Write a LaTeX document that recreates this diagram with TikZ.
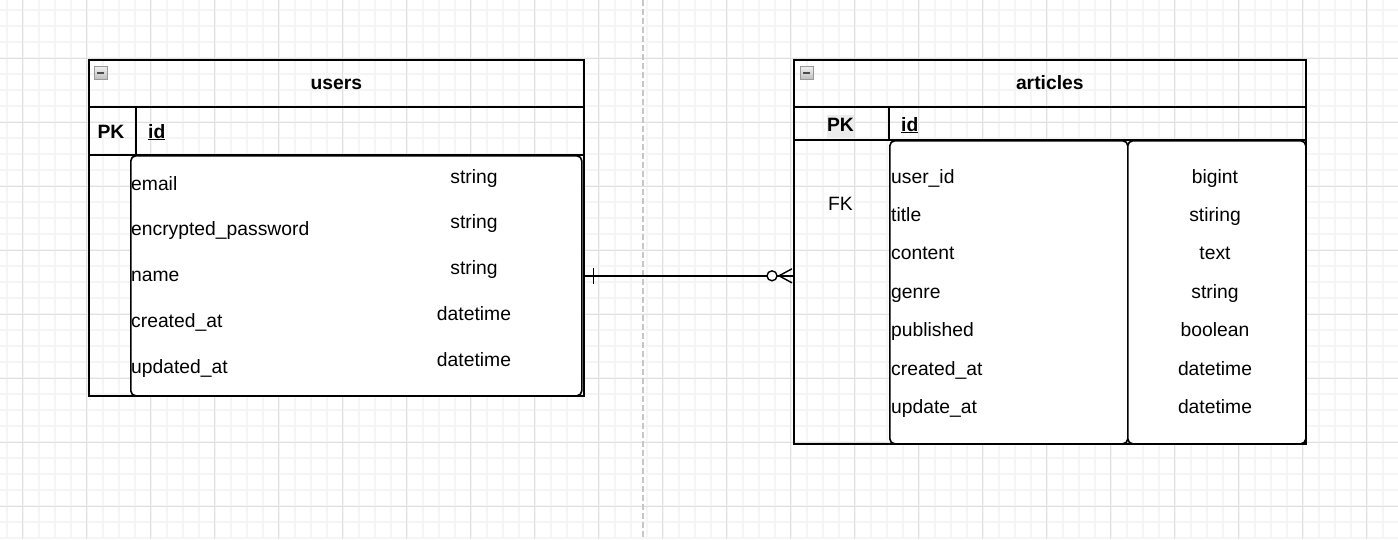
\documentclass[tikz,border=0pt]{standalone}
\usepackage{fontspec}
\setmainfont{Liberation Sans}
\usepackage{tikz}
\usetikzlibrary{positioning, arrows}
\tikzset{
	tablebox/.style={draw=black, line width=1.6pt, inner sep=0pt, anchor=north west}, % outer frame of a table
	fieldbox/.style={draw=black, fill=white, line width=1.6pt, rounded corners=5pt, inner sep=0pt, anchor=north west}, % rounded block of columns
	rowline/.style={draw=black, line width=1.6pt}, % row and column separators
	tabletitle/.style={anchor=base, inner sep=0pt, font=\fontsize{19.3pt}{23pt}\selectfont\bfseries},
	keytext/.style={anchor=base, inner sep=0pt, font=\fontsize{19.3pt}{23pt}\selectfont\bfseries},
	fieldname/.style={anchor=base west, inner sep=0pt, font=\fontsize{19.3pt}{23pt}\selectfont},
	fieldtype/.style={anchor=base, inner sep=0pt, font=\fontsize{19.3pt}{23pt}\selectfont},
	foldbox/.style={draw=gray!80, top color=gray!10, bottom color=gray!50, minimum size=13pt, inner sep=0pt,
		path picture={\draw[line width=2pt, black!70] ([xshift=-3.5pt]path picture bounding box.center) -- ([xshift=3.5pt]path picture bounding box.center);}}, % collapse button
	minorgrid/.style={gray!8, line width=2pt},
	majorgrid/.style={gray!24, line width=1pt},
	relline/.style={black, line width=1.4pt},
}

\begin{document}
\begin{tikzpicture}[x=1pt, y=-1pt]
	\useasboundingbox (0,0) rectangle (1398,539);
	\clip (0,0) rectangle (1398,539);
	\fill[white] (0,0) rectangle (1398,539);

	% Grid
	\foreach \x in {6.7,22.7,...,1398} \draw[minorgrid] (\x,0) -- (\x,539);
	\foreach \y in {10.3,26.3,...,539} \draw[minorgrid] (0,\y) -- (1398,\y);
	\foreach \x in {22.3,86.3,...,1398} \draw[majorgrid] (\x,0) -- (\x,539);
	\foreach \y in {58.3,122.3,...,539} \draw[majorgrid] (0,\y) -- (1398,\y);

	% Separator
	\draw[gray!45, line width=2pt, dash pattern=on 6pt off 3pt] (643,0) -- (643,539);

	% Table users
	\node[tablebox, minimum width=495pt, minimum height=336pt] (users) at (88,59) {};
	\draw[rowline] ([yshift=-48pt]users.north west) -- ([yshift=-48pt]users.north east);
	\draw[rowline] ([yshift=-96pt]users.north west) -- ([yshift=-96pt]users.north east);
	\draw[rowline] ([shift={(48,48)}]users.north west) -- ++(0,48);
	\node[fieldbox, minimum width=451pt, minimum height=240pt] (ubody) at (130,155) {};
	\node[foldbox] (ufold) at (100.5,72.5) {};
	\node[tabletitle] (utitle) at ([yshift=-30pt]users.north) {users};
	\node[keytext] (upk) at (111,138) {PK};
	\node[keytext, anchor=base west] (uid) at (148,138) {\underline{id}};
	\foreach \fname/\ftype [count=\i from 0] in {email/string, encrypted\_password/string, name/string, created\_at/datetime, updated\_at/datetime} {
		\node[fieldname] (u-\i) at (131,{190+45.75*\i}) {\fname};
		\node[fieldtype] (ut-\i) at (474,{183+45.75*\i}) {\ftype};
	}

	% Table articles
	\node[tablebox, minimum width=512pt, minimum height=384pt] (articles) at (793,59) {};
	\draw[rowline] ([yshift=-48pt]articles.north west) -- ([yshift=-48pt]articles.north east);
	\draw[rowline] ([yshift=-81pt]articles.north west) -- ([yshift=-81pt]articles.north east);
	\draw[rowline] ([shift={(96,48)}]articles.north west) -- ++(0,33);
	\node[fieldbox, minimum width=238pt, minimum height=303pt] (anames) at (889,140) {};
	\node[fieldbox, minimum width=178pt, minimum height=303pt] (atypes) at (1127,140) {};
	\node[foldbox] (afold) at (806.5,72.5) {};
	\node[tabletitle] (atitle) at ([yshift=-30pt]articles.north) {articles};
	\node[keytext, fill=gray!15, minimum width=27pt, text height=16pt, text depth=7pt] (apk) at (840.5,131) {PK};
	\node[keytext, anchor=base west] (aid) at (901,131) {\underline{id}};
	\node[fieldtype] (afk) at (840.5,210) {FK};
	\foreach \fname/\ftype [count=\i from 0] in {user\_id/bigint, title/stiring, content/text, genre/string, published/boolean, created\_at/datetime, update\_at/datetime} {
		\node[fieldname] (a-\i) at (891,{183+38.4*\i}) {\fname};
		\node[fieldtype] (at-\i) at (1215,{183+38.4*\i}) {\ftype};
	}

	% Relation users 1 -- 0..n articles
	\path (users.east) ++(0,48) coordinate (uend);
	\coordinate (aend) at (articles.west |- uend);
	\draw[relline] (uend) -- (aend);
	\draw[relline] ([shift={(9,-8)}]uend) -- ([shift={(9,8)}]uend); % exactly one
	\draw[relline, fill=white] ([xshift=-21pt]aend) circle (5pt); % zero
	\draw[relline] ([shift={(-1,-7)}]aend) -- ([xshift=-14pt]aend) -- ([shift={(-1,7)}]aend); % many
\end{tikzpicture}
\end{document}
